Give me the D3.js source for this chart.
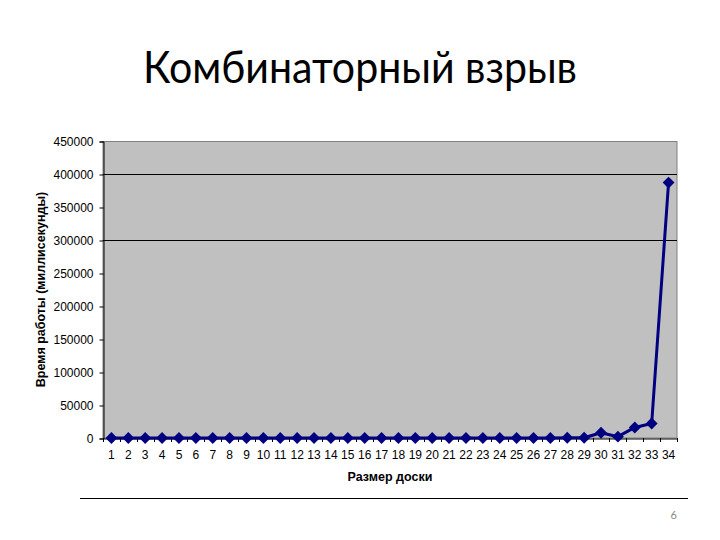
<!DOCTYPE html>
<html><head><meta charset="utf-8">
<script src="https://cdn.jsdelivr.net/npm/d3@7"></script>
<style>body{margin:0;background:#fff}</style>
</head><body>
<script>
const boardSizes = d3.range(1, 35).map(String);
const timesMs = [0,0,0,0,0,0,0,0,0,0,0,0,0,0,0,0,0,0,0,0,0,0,0,0,0,0,0,300,400,8000,2000,16000,22000,387000];
const yTicks = [0,50000,100000,150000,200000,250000,300000,350000,400000,450000];
const gridValues = [300000, 400000];
const titleText = "Комбинаторный взрыв";
const yTitle = "Время работы (миллисекунды)";
const xTitle = "Размер доски";
const pageNum = "6";

const W = 720, H = 540;
const svg = d3.select("body").append("svg").attr("width", W).attr("height", H);
const L = 103, R = 677, T = 141, B = 438;
const axisFont = "'Liberation Sans', Arial, sans-serif";

const x = d3.scaleBand().domain(boardSizes).range([L, R]).padding(0);
const y = d3.scaleLinear().domain([0, 450000]).range([B, T]);

svg.append("text").attr("x", 360).attr("y", 83).attr("text-anchor", "middle")
  .attr("font-family", "Lato, 'Open Sans', sans-serif").attr("font-size", 45).attr("font-weight", 400).attr("fill", "#000")
  .attr("textLength", 434).attr("lengthAdjust", "spacingAndGlyphs")
  .text(titleText);

svg.append("rect").attr("x", L).attr("y", T + 0.5).attr("width", R - L).attr("height", B - T - 0.5)
  .attr("fill", "#c0c0c0").attr("stroke", "#808080").attr("stroke-width", 1);

svg.selectAll(".grid").data(gridValues).enter().append("line")
  .attr("x1", L).attr("x2", R).attr("y1", d => Math.round(y(d)) + 0.5).attr("y2", d => Math.round(y(d)) + 0.5)
  .attr("stroke", "#000").attr("stroke-width", 1);

const yAxis = svg.append("g").attr("transform", `translate(${L + 0.5},0.5)`)
  .call(d3.axisLeft(y).tickValues(yTicks).tickSize(4).tickPadding(6).tickFormat(d3.format("d")));
yAxis.select(".domain").attr("stroke", "#000");
yAxis.selectAll("text").attr("font-family", axisFont).attr("font-size", 12).attr("fill", "#000");

const xAxis = svg.append("g").attr("transform", `translate(0,${B + 0.5})`)
  .call(d3.axisBottom(x).tickSize(0).tickPadding(12));
xAxis.select(".domain").attr("stroke", "#000");
xAxis.selectAll("text").attr("font-family", axisFont).attr("font-size", 12).attr("fill", "#000");
svg.append("g").selectAll("line").data(boardSizes.concat(["end"])).enter().append("line")
  .attr("x1", (d, i) => Math.round(L + i * x.bandwidth()) + 0.5).attr("x2", (d, i) => Math.round(L + i * x.bandwidth()) + 0.5)
  .attr("y1", B).attr("y2", B + 4).attr("stroke", "#000");

svg.append("text").attr("transform", `translate(45,${(T + B) / 2}) rotate(-90)`)
  .attr("text-anchor", "middle").attr("font-family", axisFont)
  .attr("font-size", 12.5).attr("font-weight", "bold").text(yTitle);
svg.append("text").attr("x", 390).attr("y", 481).attr("text-anchor", "middle")
  .attr("font-family", axisFont)
  .attr("font-size", 12.5).attr("font-weight", "bold").text(xTitle);

const cx = (d, i) => x(boardSizes[i]) + x.bandwidth() / 2;
const line = d3.line().x((d, i) => cx(d, i)).y(d => y(d));
svg.append("path").datum(timesMs).attr("d", line).attr("fill", "none")
  .attr("stroke", "#000080").attr("stroke-width", 3).attr("stroke-linejoin", "round");
svg.selectAll(".pt").data(timesMs).enter().append("path")
  .attr("d", d3.symbol(d3.symbolDiamond2, 90)())
  .attr("transform", (d, i) => `translate(${cx(d, i)},${y(d)})`)
  .attr("fill", "#000080");

svg.append("line").attr("x1", 80).attr("x2", 688).attr("y1", 498.5).attr("y2", 498.5)
  .attr("stroke", "#000").attr("stroke-width", 1);
svg.append("text").attr("x", 677).attr("y", 519).attr("text-anchor", "end")
  .attr("font-family", "Lato, sans-serif").attr("font-size", 11).attr("fill", "#888").text(pageNum);
</script>
</body></html>
